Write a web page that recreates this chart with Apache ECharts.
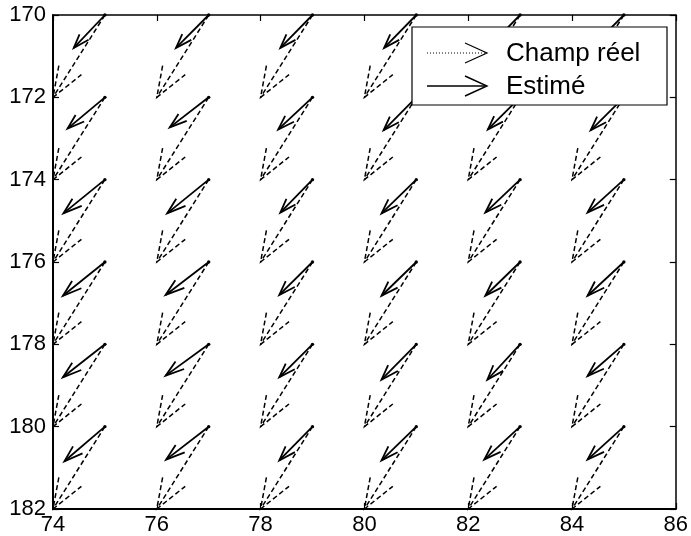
<!DOCTYPE html>
<html>
<head>
<meta charset="utf-8">
<script src="https://cdn.jsdelivr.net/npm/echarts@6/dist/echarts.min.js"></script>
<style>
  html, body { margin: 0; padding: 0; background: #fff; }
  #chart { width: 691px; height: 536px; }
</style>
</head>
<body>
<div id="chart"></div>
<script>
// grid positions of the vectors
const xPos = [75, 77, 79, 81, 83, 85]
const yPos = [170, 172, 174, 176, 178, 180]
const xTicks = [74, 76, 78, 80, 82, 84, 86]
const yTicks = [170, 172, 174, 176, 178, 180, 182]
const seriesNames = ['Champ réel', 'Estimé']

// true field (rows = yPos, cols = xPos)
const realU = [
    [-1, -1, -1, -1, -1, -1],
    [-1, -1, -1, -1, -1, -1],
    [-1, -1, -1, -1, -1, -1],
    [-1, -1, -1, -1, -1, -1],
    [-1, -1, -1, -1, -1, -1],
    [-1, -1, -1, -1, -1, -1]
]
const realV = [
    [2, 2, 2, 2, 2, 2],
    [2, 2, 2, 2, 2, 2],
    [2, 2, 2, 2, 2, 2],
    [2, 2, 2, 2, 2, 2],
    [2, 2, 2, 2, 2, 2],
    [2, 2, 2, 2, 2, 2]
]
// estimated field
const estU = [
    [-0.60, -0.63, -0.62, -0.62, -0.62, -0.63],
    [-0.72, -0.75, -0.66, -0.63, -0.62, -0.64],
    [-0.80, -0.80, -0.62, -0.67, -0.67, -0.70],
    [-0.81, -0.83, -0.64, -0.67, -0.67, -0.70],
    [-0.81, -0.83, -0.64, -0.67, -0.63, -0.70],
    [-0.78, -0.82, -0.64, -0.67, -0.69, -0.70]
]
const estV = [
    [0.80, 0.80, 0.80, 0.80, 0.80, 0.80],
    [0.76, 0.73, 0.78, 0.80, 0.78, 0.80],
    [0.82, 0.82, 0.80, 0.82, 0.80, 0.80],
    [0.82, 0.80, 0.80, 0.82, 0.82, 0.82],
    [0.80, 0.76, 0.80, 0.86, 0.86, 0.77],
    [0.84, 0.80, 0.82, 0.82, 0.80, 0.80]
]

function toData(U, V) {
    const out = []
    for (let r = 0; r < yPos.length; r++) {
        for (let c = 0; c < xPos.length; c++) {
            out.push([xPos[c], yPos[r], U[r][c], V[r][c]])
        }
    }
    return out
}

// matlab style quiver arrow
function arrowItem(style, withDot) {
    return function (params, api) {
        const x = api.value(0), y = api.value(1), u = api.value(2), v = api.value(3)
        const a = 0.33, b = 0.33
        const p0 = api.coord([x, y])
        const p1 = api.coord([x + u, y + v])
        const h1 = api.coord([x + u - a * (u + b * v), y + v - a * (v - b * u)])
        const h2 = api.coord([x + u - a * (u - b * v), y + v - a * (v + b * u)])
        const children = [
            { type: 'line', shape: { x1: p0[0], y1: p0[1], x2: p1[0], y2: p1[1] }, style: style },
            { type: 'polyline', shape: { points: [h1, p1, h2] }, style: style }
        ]
        if (withDot) {
            children.push({ type: 'circle', shape: { cx: p0[0], cy: p0[1], r: 1.7 }, style: { fill: '#000' } })
        }
        return { type: 'group', children: children }
    }
}

const font = 'Liberation Sans, Arial, sans-serif'
const chart = echarts.init(document.getElementById('chart'), null, { renderer: 'canvas' })

const axisLine = { show: true, lineStyle: { color: '#000', width: 2 } }
const tick = { show: true, inside: true, length: 6, lineStyle: { color: '#000', width: 1.2 } }

chart.setOption({
    animation: false,
    backgroundColor: '#fff',
    grid: { left: 53, right: 14, top: 15, bottom: 26 },
    xAxis: [
        {
            type: 'value', min: xTicks[0], max: xTicks[xTicks.length - 1], interval: 2,
            axisLine: axisLine, axisTick: tick, splitLine: { show: false },
            axisLabel: { color: '#000', fontSize: 22, fontFamily: font, margin: 5 }
        },
        {
            type: 'value', position: 'top', min: xTicks[0], max: xTicks[xTicks.length - 1], interval: 2,
            axisLine: { show: true, lineStyle: { color: '#000', width: 1.5 } }, axisTick: tick,
            splitLine: { show: false }, axisLabel: { show: false }
        }
    ],
    yAxis: [
        {
            type: 'value', inverse: true, min: yTicks[0], max: yTicks[yTicks.length - 1], interval: 2,
            axisLine: axisLine, axisTick: tick, splitLine: { show: false },
            axisLabel: { color: '#000', fontSize: 22, fontFamily: font, margin: 7 }
        },
        {
            type: 'value', position: 'right', inverse: true, min: yTicks[0], max: yTicks[yTicks.length - 1], interval: 2,
            axisLine: { show: true, lineStyle: { color: '#000', width: 1.5 } }, axisTick: tick,
            splitLine: { show: false }, axisLabel: { show: false }
        }
    ],
    series: [
        {
            name: seriesNames[0],
            type: 'custom',
            renderItem: arrowItem({ stroke: '#000', lineWidth: 1.5, lineDash: [5, 3], fill: null }, false),
            data: toData(realU, realV),
            clip: false,
            z: 2
        },
        {
            name: seriesNames[1],
            type: 'custom',
            renderItem: arrowItem({ stroke: '#000', lineWidth: 1.8, fill: null }, true),
            data: toData(estU, estV),
            clip: false,
            z: 3
        }
    ],
    graphic: [
        { type: 'rect', z: 100, shape: { x: 412, y: 27, width: 255, height: 78 }, style: { fill: '#fff', stroke: '#000', lineWidth: 1.2 } },
        { type: 'line', z: 101, shape: { x1: 427, y1: 53, x2: 485, y2: 53 }, style: { stroke: '#000', lineWidth: 1, lineDash: [1, 2] } },
        { type: 'polyline', z: 101, shape: { points: [[465, 43], [487, 53], [465, 63]] }, style: { stroke: '#000', lineWidth: 1.2, fill: null } },
        { type: 'text', z: 101, x: 506, y: 54, style: { text: seriesNames[0], fontSize: 26, fontFamily: font, fill: '#000', verticalAlign: 'middle' } },
        { type: 'line', z: 101, shape: { x1: 427, y1: 86, x2: 485, y2: 86 }, style: { stroke: '#000', lineWidth: 1.6 } },
        { type: 'polyline', z: 101, shape: { points: [[465, 76], [487, 86], [465, 96]] }, style: { stroke: '#000', lineWidth: 1.4, fill: null } },
        { type: 'text', z: 101, x: 506, y: 87, style: { text: seriesNames[1], fontSize: 26, fontFamily: font, fill: '#000', verticalAlign: 'middle' } }
    ]
})
</script>
</body>
</html>
